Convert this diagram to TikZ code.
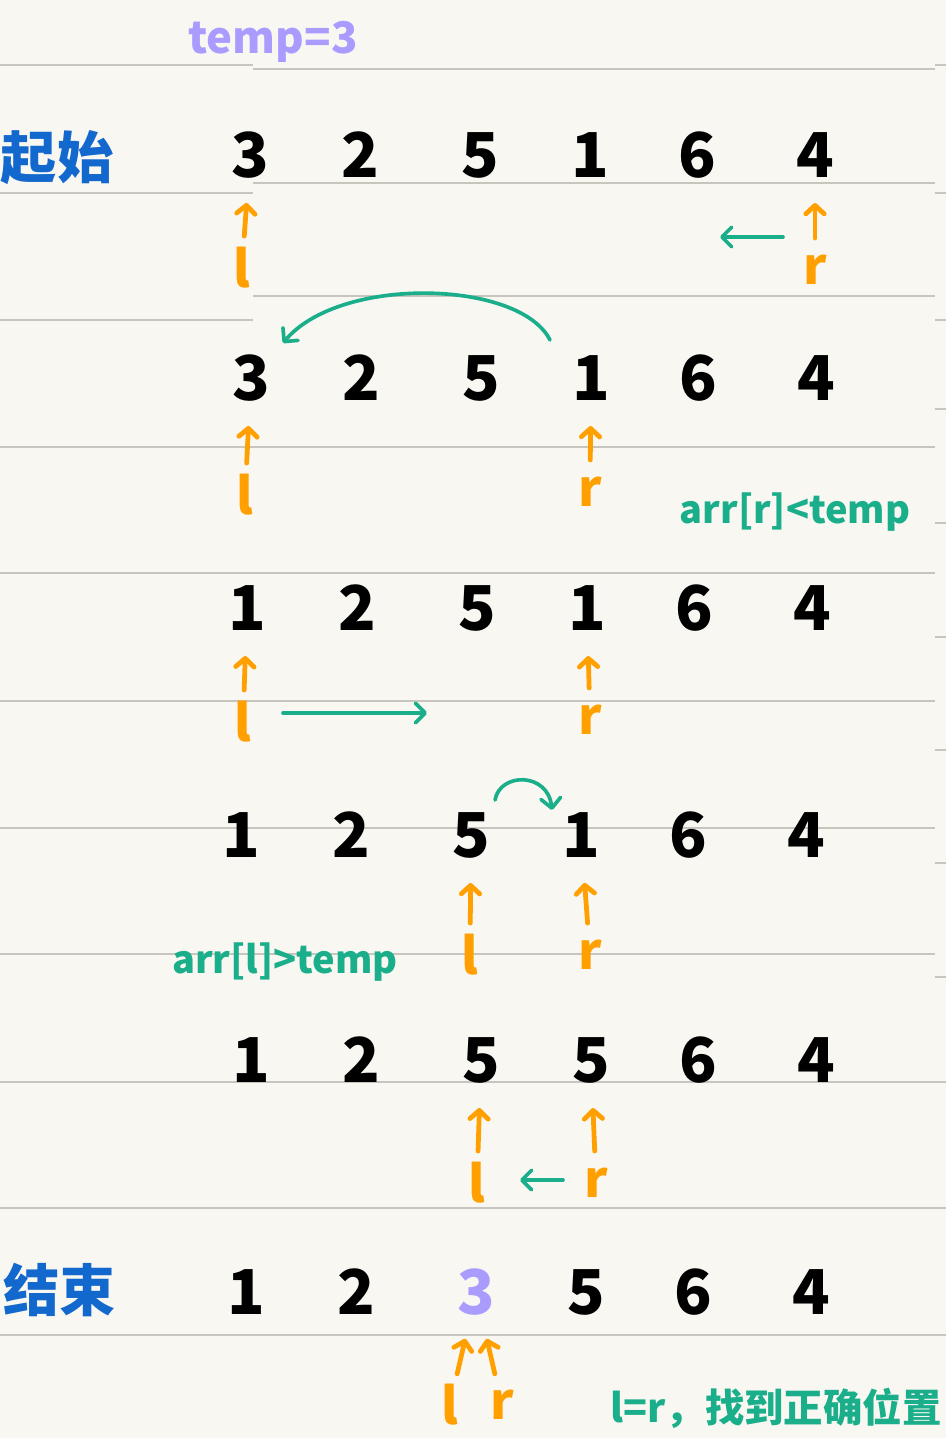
\documentclass[tikz,border=0pt]{standalone}
\usepackage{fontspec}
\setmainfont{Noto Sans CJK SC}
\usetikzlibrary{arrows.meta}
\definecolor{paper}{RGB}{249,247,242}
\definecolor{rule}{RGB}{200,196,190}
\definecolor{ptrorange}{RGB}{255,160,0}
\definecolor{notegreen}{RGB}{26,174,138}
\definecolor{titleblue}{RGB}{18,104,204}
\definecolor{temppurple}{RGB}{170,156,255}

\begin{document}
\begin{tikzpicture}[x=0.025cm,y=-0.025cm,
  digit/.style={font=\fontsize{44}{48}\selectfont\bfseries,inner sep=0pt},
  ptrlbl/.style={font=\fontsize{36}{40}\selectfont\bfseries,text=ptrorange,inner sep=0pt},
  ptr/.style={ptrorange,line width=3.4pt,line cap=round,-{Straight Barb[length=6pt,width=13pt,round]},shorten <=0.8cm,shorten >=1.2cm},
  move/.style={notegreen,line width=2.6pt,line cap=round,-{Straight Barb[length=7pt,width=14pt,round]}},
  note/.style={font=\fontsize{27}{31}\selectfont\bfseries,text=notegreen,inner sep=0pt},
  title/.style={font=\fontsize{40}{44}\selectfont\bfseries,text=titleblue,inner sep=0pt}]
\fill[paper] (0,0) rectangle (946,1438);
\useasboundingbox (0,0) rectangle (946,1438);
% ruled paper
\foreach \y in {65,193,320} \draw[rule,line width=1.3pt] (0,\y) -- (253,\y);
\foreach \y in {69,183,296} \draw[rule,line width=1.3pt] (253,\y) -- (935,\y);
\foreach \y in {447,573,701,828,954} \draw[rule,line width=1.3pt] (0,\y) -- (935,\y);
\foreach \y in {1082,1208,1335} \draw[rule,line width=1.3pt] (0,\y) -- (946,\y);
\foreach \y in {65,193,320,409,523,637,750,863,977} \draw[rule,line width=1.3pt] (935,\y) -- (946,\y);
% titles
\node[font=\fontsize{31}{35}\selectfont\bfseries,text=temppurple,inner sep=0pt] (temp) at (273,42) {temp=3};
\node[title] (start) at (57,158) {起始};
\node[title] (finish) at (60,1290) {结束};
% array rows
\foreach \row/\y/\dx/\hcol/\vals in {1/155/0/0/{3,2,5,1,6,4},2/378/1/0/{3,2,5,1,6,4},3/608/-3/0/{1,2,5,1,6,4},4/835/-9/0/{1,2,5,1,6,4},5/1060/1/0/{1,2,5,5,6,4},6/1292/-4/3/{1,2,3,5,6,4}} {
  \foreach \v [count=\i] in \vals {
    \pgfmathsetmacro\xx{{250,360,480,590,697,815}[\i-1]+\dx}
    \ifnum\i=\hcol\def\dcol{temppurple}\else\def\dcol{black}\fi
    \node[digit,text=\dcol] (d\row\i) at (\xx,\y) {\v};
  }
}
% l and r pointers
\foreach \row/\lx/\ly/\rx/\ry/\lt/\rt in {1/242/268/815/270/1/6,2/245/495/590/492/1/4,3/243/722/590/720/1/4,4/470/955/590/955/3/4,5/477/1183/596/1183/3/4,6/450/1405/502/1405/3/3} {
  \node[ptrlbl] (l\row) at (\lx,\ly) {l};
  \node[ptrlbl] (r\row) at (\rx,\ry) {r};
  \draw[ptr] (l\row.center) -- (d\row\lt.center);
  \draw[ptr] (r\row.center) -- (d\row\rt.center);
}
% moves
\coordinate (mv1a) at (783,237); \coordinate (mv1b) at (720,237);
\coordinate (mv3a) at (283,713); \coordinate (mv3b) at (427,713);
\coordinate (mv5a) at (563,1180); \coordinate (mv5b) at (520,1180);
\draw[move] (mv1a) -- (mv1b);
\draw[move] (mv3a) -- (mv3b);
\draw[move] (mv5a) -- (mv5b);
\coordinate (swS) at (550,340); \coordinate (swE) at (283,343);
\draw[move] (swS) .. controls (520,280) and (340,275) .. (swE);
\coordinate (stS) at (495,800); \coordinate (stE) at (552,810);
\draw[move] (stS) .. controls (500,772) and (548,772) .. (stE);
% notes
\node[note] (condr) at (795,512) {arr[r]<temp};
\node[note] (condl) at (285,962) {arr[l]>temp};
\node[note,font=\fontsize{28}{32}\selectfont\bfseries] (found) at (776,1408) {l=r，找到正确位置};
\end{tikzpicture}
\end{document}
